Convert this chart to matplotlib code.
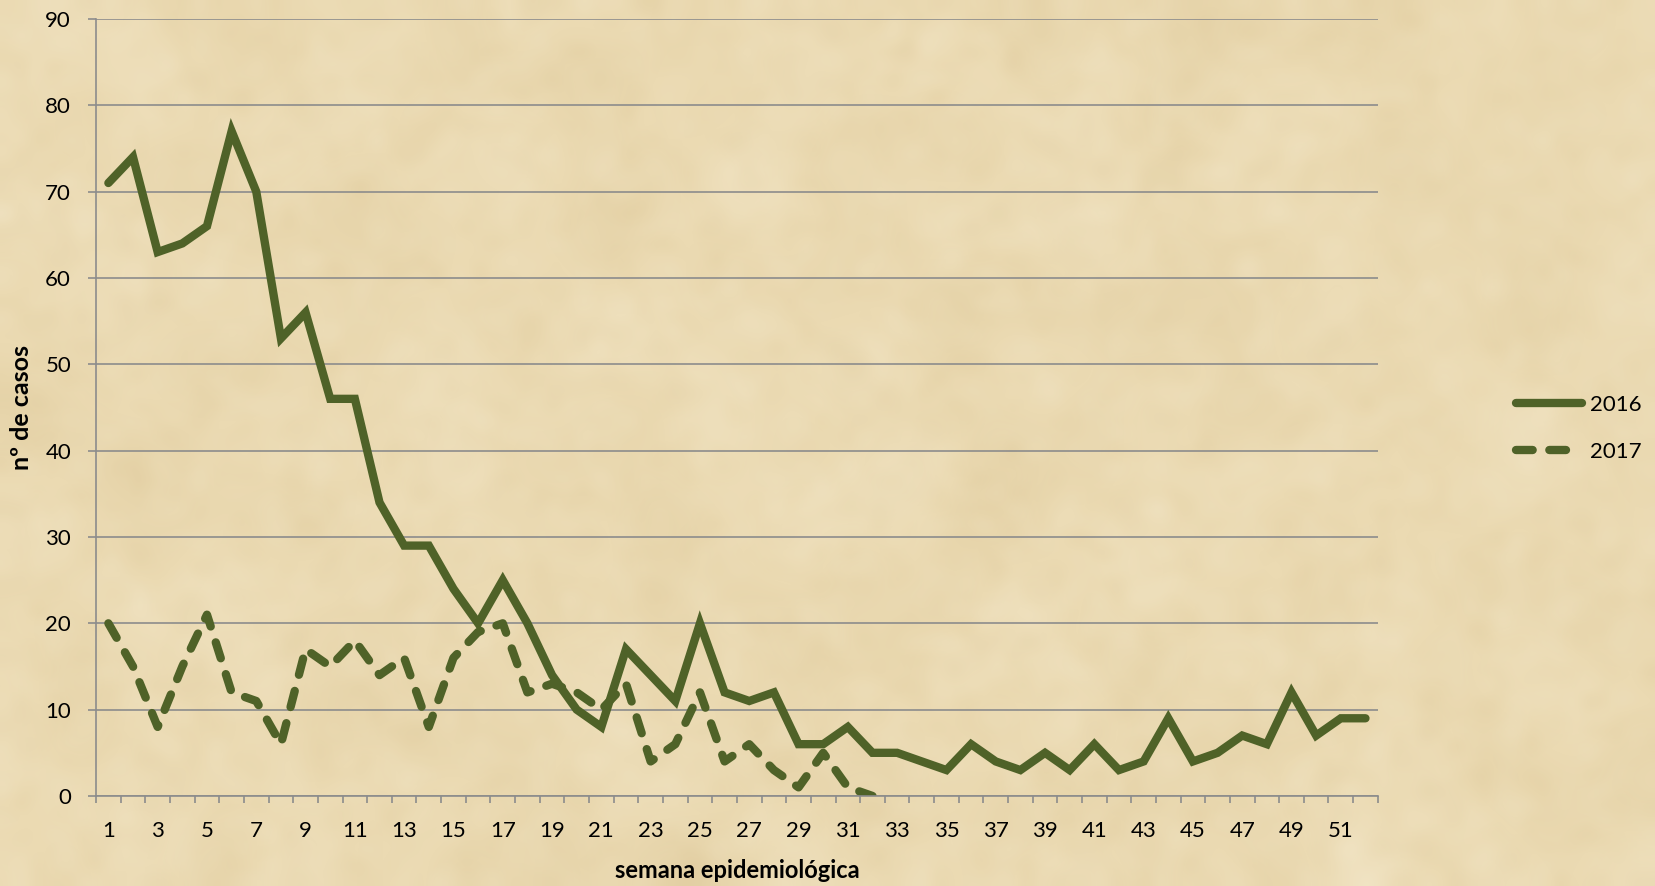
import numpy as np
import matplotlib.pyplot as plt
from matplotlib.colors import LinearSegmentedColormap
from matplotlib.ticker import MultipleLocator

# Casos semanais por semana epidemiológica
semanas_2016 = list(range(1, 53))
casos_2016 = [71, 74, 63, 64, 66, 77, 70, 53, 56, 46,
              46, 34, 29, 29, 24, 20, 25, 20, 14, 10,
              8, 17, 14, 11, 20, 12, 11, 12, 6, 6,
              8, 5, 5, 4, 3, 6, 4, 3, 5, 3,
              6, 3, 4, 9, 4, 5, 7, 6, 12, 7,
              9, 9]

semanas_2017 = list(range(1, 33))
casos_2017 = [20, 15, 8, 15, 21, 12, 11, 6, 17, 15,
              18, 14, 16, 8, 16, 19, 20, 12, 13, 12,
              10, 13, 4, 6, 12, 4, 6, 3, 1, 5,
              1, 0]

x_ticks = list(range(1, 53, 2))
y_ticks = list(range(0, 91, 10))

line_color = '#4f6228'
grid_color = '#8c8c8c'
bg_color = '#ecdcb6'
font = ['Lato', 'DejaVu Sans']

fig = plt.figure(figsize=(16.56, 8.86), dpi=100)
fig.patch.set_facecolor(bg_color)

# parchment-like mottled background
rng = np.random.default_rng(11)
coarse = rng.normal(size=(18, 34))
fine = rng.normal(size=(60, 112))
paper = LinearSegmentedColormap.from_list(
    'paper', ['#dcc696', '#ebdab2', '#f6ecd3'])
bg_ax = fig.add_axes([0, 0, 1, 1], zorder=-2)
bg_ax.imshow(coarse, cmap=paper, interpolation='bicubic', aspect='auto',
             extent=(0, 1, 0, 1), vmin=-3.2, vmax=3.2)
bg_ax.imshow(fine, cmap=paper, interpolation='bicubic', aspect='auto',
             extent=(0, 1, 0, 1), vmin=-3.5, vmax=3.5, alpha=0.45)
bg_ax.set_axis_off()

ax = fig.add_axes([0.058, 0.1016, 0.774, 0.877])
ax.set_facecolor('none')

ax.plot(semanas_2016, casos_2016, color=line_color, lw=6.0,
        solid_joinstyle='miter', solid_capstyle='round', label='2016')
ax.plot(semanas_2017, casos_2017, color=line_color, lw=6.0,
        dashes=(2.0, 2.0), dash_capstyle='round', dash_joinstyle='round',
        label='2017')

ax.set_xlim(0.5, 52.5)
ax.set_ylim(0, 90)
ax.set_xticks(x_ticks)
ax.set_xticklabels([str(v) for v in x_ticks], family=font, fontsize=16)
ax.xaxis.set_minor_locator(MultipleLocator(1, offset=0.5))
ax.set_yticks(y_ticks)
ax.set_yticklabels([str(v) for v in y_ticks], family=font, fontsize=16)

ax.tick_params(axis='x', which='major', length=0, pad=18)
ax.tick_params(axis='x', which='minor', length=5, width=1.2,
               color=grid_color, direction='out')
ax.tick_params(axis='y', length=6, width=1.2, color=grid_color, pad=12)

ax.grid(axis='y', color=grid_color, lw=1.2)
ax.set_axisbelow(True)
for side in ['top', 'right']:
    ax.spines[side].set_visible(False)
for side in ['left', 'bottom']:
    ax.spines[side].set_color(grid_color)
    ax.spines[side].set_linewidth(1.2)

ax.set_xlabel('semana epidemiológica', family=font, fontsize=17,
              fontweight='bold', va='center')
ax.set_ylabel('nº de casos', family=font, fontsize=18, fontweight='bold')
ax.xaxis.set_label_coords(0.5, -0.096)
ax.yaxis.set_label_coords(-0.049, 0.5)

leg = ax.legend(loc='center left', bbox_to_anchor=(1.099, 0.473),
                frameon=False, borderpad=0, handlelength=3.0,
                handletextpad=0.35, labelspacing=1.2,
                prop={'family': font, 'size': 16})

fig.savefig('out.png', dpi=100, facecolor=bg_color)
